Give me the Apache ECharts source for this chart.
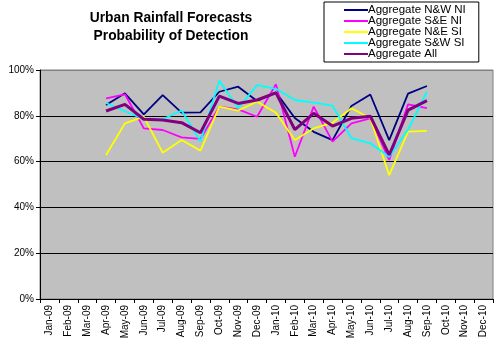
<!DOCTYPE html>
<html><head><meta charset="utf-8">
<script src="https://cdn.jsdelivr.net/npm/echarts@6/dist/echarts.min.js"></script>
<style>html,body{margin:0;padding:0;background:#fff}#c{width:500px;height:347px}</style>
</head><body><div id="c"></div>
<script>
const categories = ['Jan-09','Feb-09','Mar-09','Apr-09','May-09','Jun-09','Jul-09','Aug-09','Sep-09','Oct-09','Nov-09','Dec-09','Jan-10','Feb-10','Mar-10','Apr-10','May-10','Jun-10','Jul-10','Aug-10','Sep-10','Oct-10','Nov-10','Dec-10'];
const yTicks = [0, 20, 40, 60, 80, 100];
const nwNI  = [null,null,null,84.7,89.8,80.6,89.0,81.4,81.5,90.5,92.7,86.5,90.3,79.0,73.0,69.4,84.3,89.3,69.4,89.7,93.0,null,null,null];
const seNI  = [null,null,null,87.6,89.4,74.5,73.8,70.6,69.9,84.0,82.8,79.6,93.8,62.1,84.0,68.7,76.7,78.9,60.7,85.0,83.3,null,null,null];
const neSI  = [null,null,null,62.9,76.7,79.6,63.9,69.4,64.8,84.0,82.3,86.2,81.3,69.4,74.5,77.0,83.3,78.9,54.1,73.1,73.4,null,null,null];
const swSI  = [null,null,null,85.6,82.0,78.5,78.5,82.3,68.9,95.3,83.3,93.4,91.8,86.9,85.8,84.4,70.2,68.0,62.1,74.0,90.5,null,null,null];
const allAg = [null,null,null,82.1,85.0,78.5,78.2,77.0,72.6,88.6,85.4,86.9,90.0,74.0,81.1,75.5,78.9,79.8,62.9,82.5,86.6,null,null,null];

const names = ['Aggregate N&W NI','Aggregate S&E NI','Aggregate N&E SI','Aggregate S&W SI','Aggregate All'];
const colors = ['#000080','#FF00FF','#FFFF00','#00FFFF','#800080'];
const datas = [nwNI, seNI, neSI, swSI, allAg];
const widths = [1.8,1.8,1.8,1.8,3];

const chart = echarts.init(document.getElementById('c'), null, {renderer:'canvas'});
chart.setOption({
  animation:false,
  backgroundColor:'#fff',
  textStyle:{fontFamily:'Liberation Sans, Arial, sans-serif'},
  title:{
    text:'Urban Rainfall Forecasts\nProbability of Detection',
    left:166, top:4, textAlign:'center',
    textStyle:{fontSize:13.8, fontWeight:'bold', color:'#000', lineHeight:18, fontFamily:'Liberation Sans, Arial, sans-serif'}
  },
  legend:{
    orient:'vertical', left:324, top:2,
    itemWidth:24, itemHeight:2, itemGap:-1,
    padding:[2,13,2,20],
    borderColor:'#000', borderWidth:1, backgroundColor:'#fff',
    icon:'rect',
    textStyle:{fontSize:11.5, color:'#000', padding:[0,0,0,-5], lineHeight:10.5, height:10.5},
    data:names
  },
  grid:{left:40, right:7, top:70, bottom:48, show:true, backgroundColor:'#C0C0C0', borderColor:'#808080', borderWidth:1},
  xAxis:{
    type:'category', data:categories, boundaryGap:true,
    axisLine:{lineStyle:{color:'#000', width:1}},
    axisTick:{show:true, length:4, lineStyle:{color:'#000'}},
    axisLabel:{rotate:90, fontSize:10, color:'#000', margin:6}
  },
  yAxis:{
    type:'value', min:0, max:100, interval:20,
    axisLine:{show:true, lineStyle:{color:'#000', width:1}},
    axisTick:{show:true, length:4, lineStyle:{color:'#000'}},
    axisLabel:{fontSize:10, color:'#000', margin:6, formatter:v=>yTicks.includes(v)? v+'%' : ''},
    splitLine:{show:true, lineStyle:{color:['#000','#000','#000','#000','#000','#808080'], width:1}}
  },
  series: datas.map((d,i)=>({
    name:names[i], type:'line', data:d, showSymbol:false, symbol:'none',
    connectNulls:false, color:colors[i],
    lineStyle:{color:colors[i], width:widths[i]},
    z: 2+i
  }))
});
</script></body></html>
